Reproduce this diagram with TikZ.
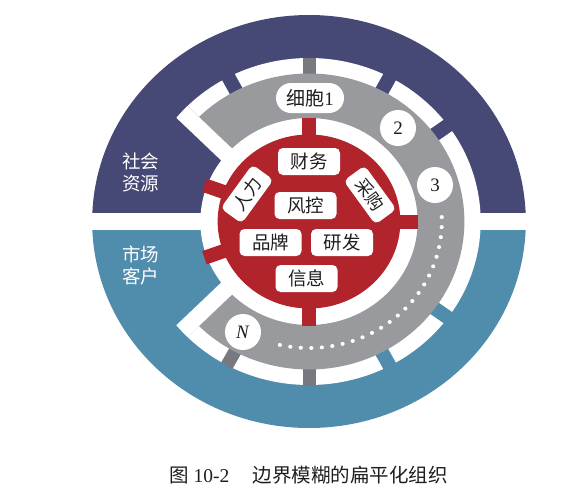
\documentclass[tikz,border=0pt]{standalone}
\usepackage{fontspec}
\setmainfont{Liberation Serif}
\newfontfamily\cjk{Noto Sans CJK SC}
\definecolor{cnavy}{RGB}{70,72,118}
\definecolor{cteal}{RGB}{80,140,172}
\definecolor{cring}{RGB}{153,154,158}
\definecolor{cdgray}{RGB}{120,121,127}
\definecolor{cred}{RGB}{178,36,44}
\definecolor{ctext}{RGB}{30,30,30}
\begin{document}
\begin{tikzpicture}[x=1pt,y=1pt,
  lbl/.style={fill=white, rounded corners=5pt, minimum width=62pt, minimum height=27pt, inner sep=0pt, text=ctext, font=\cjk\fontsize{18.5}{18.5}\selectfont},
  rlbl/.style={lbl, minimum width=54pt, minimum height=26pt, font=\cjk\fontsize{17.5}{17.5}\selectfont},
  num/.style={circle, fill=white, minimum size=36pt, inner sep=0pt, text=ctext, font=\fontsize{19}{19}\selectfont},
  side/.style={text=white, align=center, font=\cjk\fontsize{18.5}{22}\selectfont},
  bridge/.style={line width=14pt},
  dotmark/.style={fill=white}
  ]
\useasboundingbox (0,0) rectangle (580,-498);
\begin{scope}[shift={(309,-221.5)}, xscale=1.05]
  % outer disk
  \fill[cnavy] (0:206.5) arc[start angle=0,end angle=180,radius=206.5] -- cycle;
  \fill[cteal] (180:206.5) arc[start angle=180,end angle=360,radius=206.5] -- cycle;
  % horizontal white band
  \fill[white] (-210,-8.5) rectangle (210,8.5);
  % white gaps
  \fill[white] (0,0) -- (-135:163.5) arc[start angle=-135,end angle=135,radius=163.5] -- cycle;
  \fill[white] (0,0) circle[radius=103.5];
  \begin{scope}
    \clip (0,0) circle[radius=163.5];
    \fill[white, rotate=135] (80,0) rectangle (170,16);
    \fill[white, rotate=225] (80,-16) rectangle (170,0);
  \end{scope}
  % bridges
  \foreach \a in {118,62,36} \draw[cnavy, bridge] (\a:140) -- (\a:170);
  \foreach \a in {-36,-62} \draw[cteal, bridge] (\a:140) -- (\a:170);
  \foreach \a in {90,270,241.5} \draw[cdgray, line width=13pt] (\a:140) -- (\a:164);
  % gray ring
  \fill[cring] (-135:103.5) arc[start angle=-135,end angle=135,radius=103.5]
     -- (135:148) arc[start angle=135,end angle=-135,radius=148] -- cycle;
  % red hub
  \foreach \a in {90,0,270} \draw[cred, line width=14pt] (0,0) -- (\a:104);
  \foreach \a in {160,200} \draw[cred, line width=14pt] (0,0) -- (\a:106);
  \fill[cred] (0,0) circle[radius=87];
  % dots
  \foreach \i in {0,...,23} \fill[dotmark] ({2-4.55*\i}:126.5) circle[radius=2];
\end{scope}
% hub labels
\node[lbl] (caiwu) at (309,-161.5) {财务};
\node[lbl] (fengkong) at (305.5,-205.5) {风控};
\node[lbl] (pinpai) at (270.5,-242.5) {品牌};
\node[lbl] (yanfa) at (342,-242.5) {研发};
\node[lbl] (xinxi) at (306.5,-278.5) {信息};
\node[rlbl, rotate=54] (renli) at (247,-194) {人力};
\node[rlbl, rotate=-54] (caigou) at (370,-195) {采购};
% ring labels
\node[fill=white, rounded corners=15pt, minimum width=68pt, minimum height=30pt, inner sep=0pt, text=ctext, font=\fontsize{19}{19}\selectfont] (cell1) at (310,-98) {{\cjk 细胞}1};
\node[num] (c2) at (398,-128) {2};
\node[num] (c3) at (435,-185) {3};
\node[num] (cn) at (243,-332) {\textit{N}};
% side labels
\node[side] (shehui) at (140.5,-172) {社会\\资源};
\node[side] (shichang) at (140.5,-265) {市场\\客户};
% caption
\node[text=ctext, font=\fontsize{19.5}{19.5}\selectfont] (cap) at (308.5,-475.5) {{\cjk 图} 10-2\hspace{1.2em}{\cjk 边界模糊的扁平化组织}};
\end{tikzpicture}
\end{document}
